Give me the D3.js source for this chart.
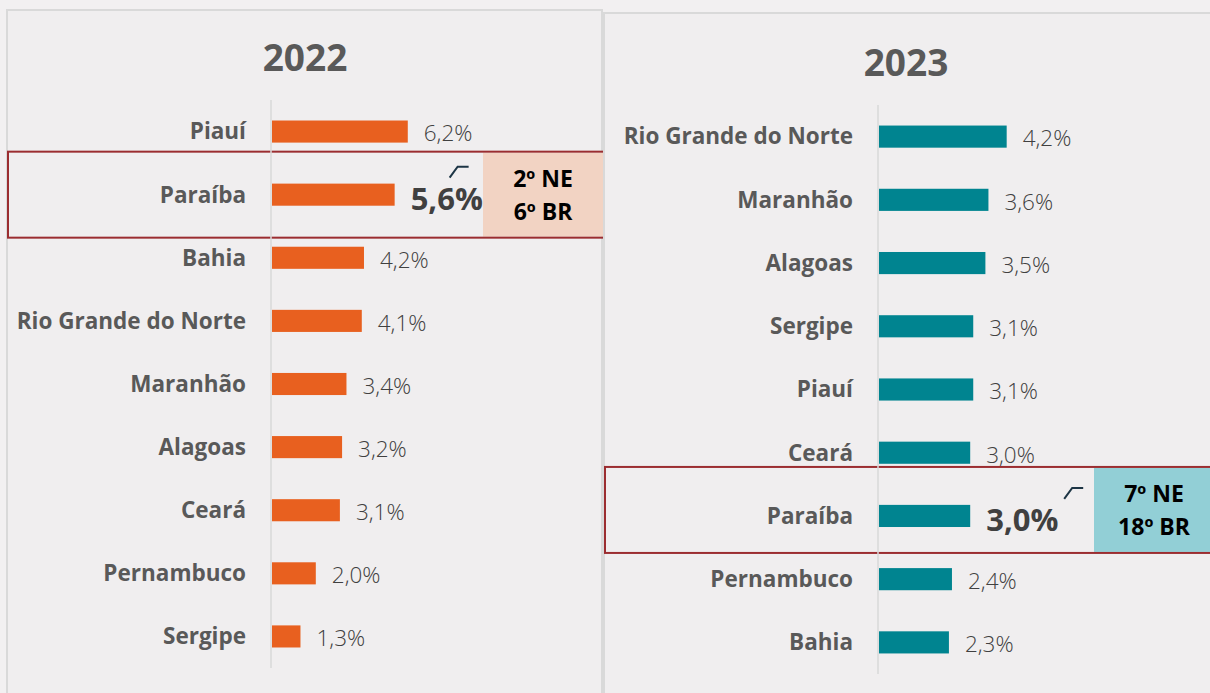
<!DOCTYPE html>
<html>
<head>
<meta charset="utf-8">
<script src="https://cdn.jsdelivr.net/npm/d3@7"></script>
<style>
  body { margin: 0; background: #f2f0f1; }
  svg { display: block; font-family: "Open Sans", "Noto Sans", sans-serif; }
</style>
</head>
<body>
<svg id="chart" width="1210" height="693"></svg>
<script>
// data
var states2022 = ["Piauí", "Paraíba", "Bahia", "Rio Grande do Norte", "Maranhão", "Alagoas", "Ceará", "Pernambuco", "Sergipe"];
var values2022 = [6.2, 5.6, 4.2, 4.1, 3.4, 3.2, 3.1, 2.0, 1.3];
var states2023 = ["Rio Grande do Norte", "Maranhão", "Alagoas", "Sergipe", "Piauí", "Ceará", "Paraíba", "Pernambuco", "Bahia"];
var values2023 = [4.2, 3.6, 3.5, 3.1, 3.1, 3.0, 3.0, 2.4, 2.3];
var rank2022 = ["2º NE", "6º BR"];
var rank2023 = ["7º NE", "18º BR"];
var highlight = "Paraíba";

var svg = d3.select("#chart");
var fmt = function(v) { return d3.format(".1f")(v).replace(".", ",") + "%"; };

//panel settings
var panels = [
  {title: "2022", states: states2022, values: values2022, rank: rank2022,
   box: [7, 10, 595, 700], titleX: 305, titleY: 71,
   axisX: 272, pxPerUnit: 21.9, yRange: [100, 668],
   color: "#e8601f", rankFill: "#f2d3c3", hlLeft: 8, hlW: 597, hlShift: 0,
   rankX: 483, rankW: 120, leadOff: 55},
  {title: "2023", states: states2023, values: values2023, rank: rank2023,
   box: [604, 13, 620, 700], titleX: 906, titleY: 76,
   axisX: 879, pxPerUnit: 30.4, yRange: [105, 674],
   color: "#008490", rankFill: "#92cfd6", hlLeft: 605, hlW: 640, hlShift: -6,
   rankX: 1094, rankW: 130, leadOff: 94}
];

panels.forEach(function(p) {
  var g = svg.append("g");

  g.append("rect")
    .attr("x", p.box[0]).attr("y", p.box[1])
    .attr("width", p.box[2]).attr("height", p.box[3])
    .attr("fill", "#f0eeef")
    .attr("stroke", "#d9d9d9")
    .attr("stroke-width", 2);

  g.append("text")
    .attr("x", p.titleX).attr("y", p.titleY)
    .attr("text-anchor", "middle")
    .attr("font-size", 37).attr("font-weight", "bold")
    .attr("fill", "#595959")
    .text(p.title);

  var x = d3.scaleLinear().domain([0, 10]).range([p.axisX, p.axisX + p.pxPerUnit * 10]);
  var y = d3.scaleBand().domain(p.states).range(p.yRange)
    .paddingInner(0.65).paddingOuter(0.325);

  var data = p.states.map(function(s, i) { return {state: s, value: p.values[i]}; });

  //highlight box behind the row
  var hy = y(highlight) + y.bandwidth() / 2;
  var by = hy + p.hlShift;
  g.append("rect")
    .attr("x", p.rankX).attr("y", by - 42)
    .attr("width", p.rankW).attr("height", 84)
    .attr("fill", p.rankFill);
  g.append("rect")
    .attr("x", p.hlLeft).attr("y", by - 43)
    .attr("width", p.hlW).attr("height", 86)
    .attr("fill", "none")
    .attr("stroke", "#9b2d30")
    .attr("stroke-width", 2);

  // axis line
  g.append("line")
    .attr("x1", p.axisX - 1).attr("x2", p.axisX - 1)
    .attr("y1", p.yRange[0]).attr("y2", p.yRange[1])
    .attr("stroke", "#d9d9d9").attr("stroke-width", 1.5);

  g.selectAll(".bar").data(data).enter().append("rect")
    .attr("x", x(0))
    .attr("y", function(d) { return y(d.state); })
    .attr("width", function(d) { return x(d.value) - x(0); })
    .attr("height", y.bandwidth())
    .attr("fill", p.color);

  g.selectAll(".cat").data(data).enter().append("text")
    .attr("x", p.axisX - 26)
    .attr("y", function(d) { return y(d.state) + y.bandwidth() / 2; })
    .attr("dy", "0.35em")
    .attr("text-anchor", "end")
    .attr("font-size", 22.5).attr("font-weight", "bold")
    .attr("fill", "#595959")
    .text(function(d) { return d.state; });

  g.selectAll(".val").data(data).enter().append("text")
    .attr("x", function(d) { return x(d.value) + 16; })
    .attr("y", function(d) { return y(d.state) + y.bandwidth() / 2 + (d.state == highlight ? 4 : 2); })
    .attr("dy", "0.35em")
    .attr("font-size", function(d) { return d.state == highlight ? 31 : 22.5; })
    .attr("font-weight", function(d) { return d.state == highlight ? "bold" : 300; })
    .attr("fill", "#404040")
    .text(function(d) { return fmt(d.value); });

  // small leader mark next to the value
  var hv = p.values[p.states.indexOf(highlight)];
  var lx = x(hv) + p.leadOff;
  g.append("path")
    .attr("d", "M" + lx + "," + (hy - 17) + "L" + (lx + 8) + "," + (hy - 28) + "L" + (lx + 19) + "," + (hy - 28))
    .attr("fill", "none")
    .attr("stroke", "#1d3545")
    .attr("stroke-width", 2);

  var rx = p.rankX + 60;
  p.rank.forEach(function(t, i) {
    g.append("text")
      .attr("x", rx).attr("y", by - 16 + i * 33)
      .attr("dy", "0.35em")
      .attr("text-anchor", "middle")
      .attr("font-size", 23).attr("font-weight", "bold")
      .attr("fill", "#000")
      .text(t);
  });
});
</script>
</body>
</html>
